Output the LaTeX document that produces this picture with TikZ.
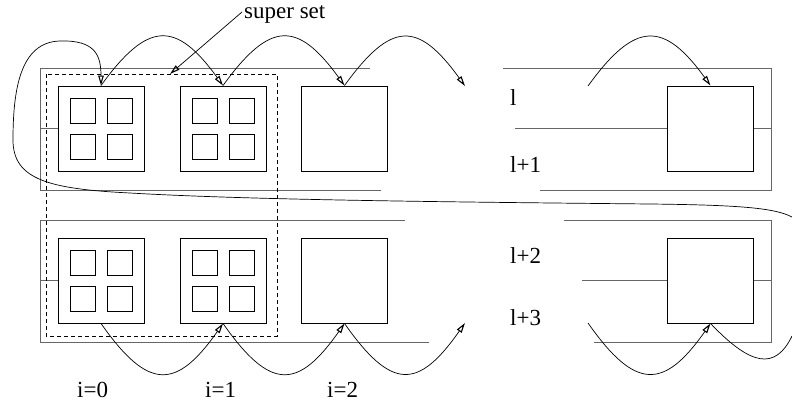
\documentclass[tikz,border=0pt]{standalone}
\usepackage{fontspec}
\setmainfont{Liberation Serif}
\usetikzlibrary{arrows.meta}

\begin{document}
\begin{tikzpicture}[x=1pt,y=-1pt,
  frame/.style={line width=0.8pt, draw=black!60},
  bigbox/.style={draw, line width=0.9pt, inner sep=0pt, minimum width=86pt, minimum height=85pt},
  cell/.style={draw, line width=0.9pt, inner sep=0pt, minimum width=25pt, minimum height=25pt},
  hop/.style={line width=0.7pt, -{Triangle[open,length=10pt,width=5.5pt,line width=1.1pt]}},
  link/.style={line width=0.7pt},
  lbl/.style={inner sep=0pt, anchor=base west, font=\fontsize{23}{23}\selectfont},
  superset/.style={draw, line width=0.7pt, dash pattern=on 4pt off 3pt}]
\useasboundingbox (0,0) rectangle (792,404);

% ---- level l / l+1 frame ----
\draw[frame] (370,68) -- (40,68) -- (40,190) -- (381,190);
\draw[frame] (503,68) -- (771,68) -- (771,190) -- (540,190);
\draw[frame] (515,128.5) -- (668,128.5);
\draw[frame] (753,128.5) -- (771,128.5);
\draw[frame] (40,128.5) -- (58,128.5);

% ---- level l+2 / l+3 frame ----
\draw[frame] (405,220) -- (40,220) -- (40,342) -- (429,342);
\draw[frame] (564,220) -- (771,220) -- (771,342) -- (594,342);
\draw[frame] (582,280.5) -- (668,280.5);
\draw[frame] (753,280.5) -- (771,280.5);
\draw[frame] (40,280.5) -- (58,280.5);

% ---- super set ----
\draw[superset] (46,74) rectangle (277,336);

% ---- boxes, upper row ----
\node[bigbox] (a0) at (101,128.5) {};
\node[bigbox] (a1) at (223,128.5) {};
\node[bigbox] (a2) at (344.5,128.5) {};
\node[bigbox] (ar) at (710.5,128.5) {};
% ---- boxes, lower row ----
\node[bigbox] (b0) at (101,280.5) {};
\node[bigbox] (b1) at (223,280.5) {};
\node[bigbox] (b2) at (344.5,280.5) {};
\node[bigbox] (br) at (710.5,280.5) {};

% ---- cells inside the super set ----
\foreach \bx/\by/\nm in {101/128.5/a0, 223/128.5/a1, 101/280.5/b0, 223/280.5/b1}{
  \node[cell] (\nm c1) at (\bx-18.5,\by-18) {};
  \node[cell] (\nm c2) at (\bx+18.5,\by-18) {};
  \node[cell] (\nm c3) at (\bx-18.5,\by+18) {};
  \node[cell] (\nm c4) at (\bx+18.5,\by+18) {};
}

% ---- free ends ----
\coordinate (ta) at (465,86);
\coordinate (tb) at (588,86);
\coordinate (ba) at (465,323);
\coordinate (bb) at (588,323);
\coordinate (wrapin) at (792,217);
\coordinate (wrapout) at (792,336);
\coordinate (ssl) at (242,12);
\coordinate (sst) at (170,74);

% ---- hops along the upper row ----
\draw[hop] (a0.north) .. controls +(47,-65) and +(-47,-65) .. (a1.north);
\draw[hop] (a1.north) .. controls +(47,-65) and +(-47,-65) .. (a2.north);
\draw[hop] (a2.north) .. controls +(47,-65) and +(-47,-65) .. (ta);
\draw[hop] (tb) .. controls +(47,-65) and +(-47,-65) .. (ar.north);

% ---- hops along the lower row ----
\draw[hop] (b0.south) .. controls +(47,67) and +(-47,67) .. (b1.south);
\draw[hop] (b1.south) .. controls +(47,67) and +(-47,67) .. (b2.south);
\draw[hop] (b2.south) .. controls +(47,67) and +(-47,67) .. (ba);
\draw[hop] (bb) .. controls +(47,67) and +(-47,67) .. (br.south);
\draw[link] (br.south) .. controls +(40,42) and +(-17,35) .. (wrapout);

% ---- wrap-around back to the first box ----
\draw[hop] (wrapin) .. controls (775,208) and (740,205) .. (650,204)
  .. controls (450,202) and (250,200) .. (130,193)
  .. controls (50,189) and (13,180) .. (13,140)
  .. controls (13,90) and (20,42) .. (60,41)
  .. controls (95,40) and (101,55) .. (a0.north);

% ---- labels ----
\node[lbl] (lsup) at (244,19) {super set};
\draw[hop] (ssl) -- (sst);
\node[lbl] (l0) at (510,105) {l};
\node[lbl] (l1) at (510,172) {l+1};
\node[lbl] (l2) at (510,263) {l+2};
\node[lbl] (l3) at (510,325) {l+3};
\node[lbl] (i0) at (77,397) {i=0};
\node[lbl] (i1) at (205,397) {i=1};
\node[lbl] (i2) at (327,397) {i=2};
\end{tikzpicture}
\end{document}
